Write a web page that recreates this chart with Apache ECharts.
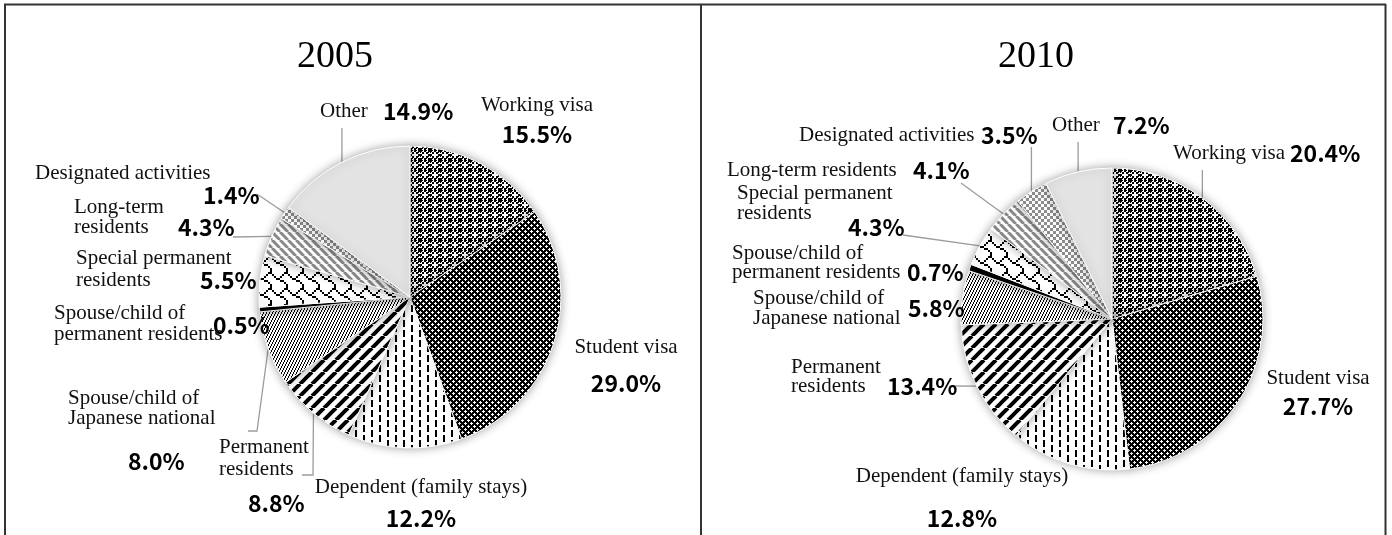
<!DOCTYPE html>
<html>
<head>
<meta charset="utf-8">
<script src="https://cdn.jsdelivr.net/npm/echarts@6/dist/echarts.min.js"></script>
<style>
  html, body { margin: 0; padding: 0; background: #fff; }
  #chart { width: 1392px; height: 535px; }
</style>
</head>
<body>
<div id="chart"></div>
<script>
// ---- data -------------------------------------------------------------
const years = ['2005', '2010'];

const categories2005 = [
  'Working visa', 'Student visa', 'Dependent (family stays)', 'Permanent\nresidents',
  'Spouse/child of\nJapanese national', 'Spouse/child of\npermanent residents',
  'Special permanent\nresidents', 'Long-term\nresidents', 'Designated activities', 'Other'
];
const values2005 = [15.5, 29.0, 12.2, 8.8, 8.0, 0.5, 5.5, 4.3, 1.4, 14.9];

const categories2010 = [
  'Working visa', 'Student visa', 'Dependent (family stays)', 'Permanent\nresidents',
  'Spouse/child of\nJapanese national', 'Spouse/child of\npermanent residents',
  'Special permanent\nresidents', 'Long-term residents', 'Designated activities', 'Other'
];
const values2010 = [20.4, 27.7, 12.8, 13.4, 5.8, 0.7, 4.3, 4.1, 3.5, 7.2];

// ---- label placement (line centre y, value start x, leader end points) ----
const place2005 = [
  { x: 537, align: 'center', lines: [{ c: 105, n: 0 }, { c: 134, v: 1 }] },
  { x: 626, align: 'center', lines: [{ c: 347, n: 0 }, { c: 383, v: 1 }] },
  { x: 421, align: 'center', lines: [{ c: 487, n: 0 }, { c: 518, v: 1 }] },
  { x: 219, lines: [{ c: 447, n: 0 }, { c: 469, n: 1 }, { c: 503, v: 1, vx: 248 }], leader: [[313, 475], [302, 475]] },
  { x: 68, lines: [{ c: 398, n: 0 }, { c: 418, n: 1 }, { c: 461, v: 1, vx: 128 }], leader: [[257, 431], [248, 431]] },
  { x: 54, lines: [{ c: 313, n: 0 }, { c: 323, v: 1, vx: 213 }, { c: 334, n: 1 }] },
  { x: 76, lines: [{ c: 258, n: 0 }, { c: 280, n: 1, v: 1, vx: 200 }] },
  { x: 74, lines: [{ c: 207, n: 0 }, { c: 227, n: 1, v: 1, vx: 178 }], leader: [[233, 237]] },
  { x: 35, lines: [{ c: 173, n: 0 }, { c: 195, v: 1, vx: 203 }], leader: [[257, 194]] },
  { x: 320, lines: [{ c: 111, n: 0, v: 1, vx: 383 }], leader: [[null, 128]] }
];
const place2010 = [
  { x: 1173, lines: [{ c: 153, n: 0, v: 1, vx: 1290 }], leader: [[null, 170]] },
  { x: 1318, align: 'center', lines: [{ c: 378, n: 0 }, { c: 406, v: 1 }] },
  { x: 962, align: 'center', lines: [{ c: 476, n: 0 }, { c: 518, v: 1 }] },
  { x: 791, lines: [{ c: 367, n: 0 }, { c: 386, n: 1, v: 1, vx: 887 }], leader: [[952, 386]] },
  { x: 753, half: 4, lines: [{ c: 298, n: 0 }, { c: 308, v: 1, vx: 908 }, { c: 318, n: 1 }] },
  { x: 732, lines: [{ c: 253, n: 0 }, { c: 272, n: 1, v: 1, vx: 907 }] },
  { x: 737, lines: [{ c: 193, n: 0 }, { c: 213, n: 1 }, { c: 227, v: 1, vx: 848 }], leader: [[903, 235]] },
  { x: 727, lines: [{ c: 170, n: 0, v: 1, vx: 913 }], leader: [[961, 183]] },
  { x: 799, lines: [{ c: 135, n: 0, v: 1, vx: 981 }], leader: [[null, 147]] },
  { x: 1052, lines: [{ c: 125, n: 0, v: 1, vx: 1113 }], leader: [[null, 142]] }
];

// ---- fill patterns ------------------------------------------------------
function tile(w, h, draw) {
  const c = document.createElement('canvas');
  c.width = w; c.height = h;
  const g = c.getContext('2d');
  g.fillStyle = '#fff';
  g.fillRect(0, 0, w, h);
  draw(g, w, h);
  return { image: c, repeat: 'repeat' };
}

// dark checker with white crosses
const fillWorking = tile(10, 10, g => {
  g.fillStyle = '#000';
  for (let i = 0; i < 5; i++) for (let j = 0; j < 5; j++) {
    if ((i + j) % 2 === 0 && !(i === 2 && j === 2)) g.fillRect(i * 2, j * 2, 2, 2);
    else if (!(Math.abs(i - 2) + Math.abs(j - 2) <= 1)) g.fillRect(i * 2, j * 2, 1, 1);
  }
});
// dark diamond lattice
const fillStudent = tile(6, 6, g => {
  g.fillStyle = '#000';
  g.fillRect(0, 0, 6, 6);
  g.fillStyle = '#fff';
  [[3, 2], [2, 3], [3, 3], [4, 3], [3, 4], [0, 0], [1, 0], [5, 0], [0, 1], [0, 5]]
    .forEach(p => g.fillRect(p[0], p[1], 1, 1));
});
// vertical dashes
const fillDependent = tile(16, 10, g => {
  g.fillStyle = '#000';
  g.fillRect(3, 0, 2, 7);
  g.fillRect(11, 5, 2, 5);
  g.fillRect(11, 0, 2, 2);
});
// wide upward diagonal
const fillPermanent = tile(12, 12, g => {
  g.strokeStyle = '#000'; g.lineWidth = 4;
  for (const k of [-12, 0, 12]) { g.beginPath(); g.moveTo(k, 12); g.lineTo(k + 12, 0); g.stroke(); }
});
// fine steep hatching
const fillSpouseJp = tile(3, 6, g => {
  g.fillStyle = '#000';
  for (let y = 0; y < 6; y++) g.fillRect(Math.floor((5 - y) / 2), y, 1, 1);
});
// shingle
const fillSpecial = tile(16, 16, g => {
  const rows = [0x03, 0x84, 0x48, 0x30, 0x0C, 0x02, 0x01, 0x01];
  g.fillStyle = '#000';
  rows.forEach((r, y) => { for (let x = 0; x < 8; x++) if (r & (0x80 >> x)) g.fillRect(x * 2, y * 2, 2, 2); });
});
// grey downward diagonal
const fillLongTerm = tile(8, 8, g => {
  g.strokeStyle = '#8a8a8a'; g.lineWidth = 3;
  for (const k of [-8, 0, 8]) { g.beginPath(); g.moveTo(k, 0); g.lineTo(k + 8, 8); g.stroke(); }
});
// grey checker
const fillDesignated = tile(6, 6, g => {
  g.fillStyle = '#8e8e8e';
  g.fillRect(0, 0, 3, 3); g.fillRect(3, 3, 3, 3);
});

const fills = [fillWorking, fillStudent, fillDependent, fillPermanent, fillSpouseJp,
  '#000', fillSpecial, fillLongTerm, fillDesignated, '#e3e3e3'];

// ---- label text building -------------------------------------------------
const NAME_FAMILY = '"Liberation Serif", "Times New Roman", serif';
const VALUE_FAMILY = '"Noto Sans CJK JP", "Noto Sans", sans-serif';
const NAME_SIZE = 21, VALUE_SIZE = 23;
const measureCtx = document.createElement('canvas').getContext('2d');
function nameWidth(t) {
  measureCtx.font = NAME_SIZE + 'px ' + NAME_FAMILY;
  return measureCtx.measureText(t).width;
}

function buildLabel(name, value, spec) {
  const nameLines = name.split('\n');
  const rich = {};
  const rows = [];
  let top = spec.lines[0].c - (spec.half || 11);
  const y0 = top;
  spec.lines.forEach((ln, i) => {
    const h = Math.max(2, 2 * (ln.c - top));
    top += h;
    let row = '';
    let cursor = spec.x;
    if (ln.n != null) {
      rich['n' + i] = { fontFamily: NAME_FAMILY, fontSize: NAME_SIZE, color: '#111', lineHeight: h };
      row += '{n' + i + '|' + nameLines[ln.n] + '}';
      cursor += nameWidth(nameLines[ln.n]);
    }
    if (ln.v) {
      const pad = ln.vx != null ? Math.max(0, ln.vx - cursor) : 0;
      rich['v' + i] = {
        fontFamily: VALUE_FAMILY, fontSize: VALUE_SIZE, fontWeight: 'bold', color: '#000',
        lineHeight: h, padding: [0, 0, 0, pad]
      };
      row += '{v' + i + '|' + value.toFixed(1) + '%}';
    }
    rows.push(row);
  });
  return { formatter: rows.join('\n'), rich, x: spec.x, y: y0, align: spec.align || 'left' };
}

function pieSeries(names, values, center, place) {
  const built = names.map((n, i) => buildLabel(n, values[i], place[i]));
  return {
    type: 'pie',
    center: center,
    radius: 151,
    startAngle: 90,
    clockwise: true,
    avoidLabelOverlap: false,
    animation: false,
    emphasis: { disabled: true },
    itemStyle: { borderColor: '#fff', borderWidth: 1, shadowBlur: 10, shadowColor: 'rgba(0,0,0,0.35)' },
    label: { show: true, position: 'outside' },
    labelLine: { show: true, length: 8, length2: 8, lineStyle: { color: '#9c9c9c', width: 1.3 } },
    data: values.map((v, i) => ({
      name: names[i],
      value: v,
      itemStyle: { color: fills[i] },
      label: { formatter: built[i].formatter, rich: built[i].rich },
      labelLine: { show: !!place[i].leader }
    })),
    labelLayout: function (p) {
      const b = built[p.dataIndex];
      const out = { x: b.x, y: b.y, align: b.align, verticalAlign: 'top' };
      const lead = place[p.dataIndex].leader;
      if (lead && p.labelLinePoints) {
        const a = p.labelLinePoints[0];
        out.labelLinePoints = [a].concat(lead.map(q => [q[0] == null ? a[0] : q[0], q[1]]));
      }
      return out;
    }
  };
}

const chart = echarts.init(document.getElementById('chart'), null, { renderer: 'canvas' });

const frameStyle = { stroke: '#333', lineWidth: 2 };
chart.setOption({
  backgroundColor: '#fff',
  graphic: [
    { type: 'line', shape: { x1: 4, y1: 4.5, x2: 1386, y2: 4.5 }, style: frameStyle },
    { type: 'line', shape: { x1: 5, y1: 4, x2: 5, y2: 535 }, style: frameStyle },
    { type: 'line', shape: { x1: 701, y1: 4, x2: 701, y2: 535 }, style: frameStyle },
    { type: 'line', shape: { x1: 1385.5, y1: 4, x2: 1385.5, y2: 535 }, style: frameStyle },
    { type: 'text', x: 335, y: 57, style: { text: years[0], font: '38px ' + NAME_FAMILY, fill: '#000', align: 'center', verticalAlign: 'middle' } },
    { type: 'text', x: 1036, y: 57, style: { text: years[1], font: '38px ' + NAME_FAMILY, fill: '#000', align: 'center', verticalAlign: 'middle' } }
  ],
  series: [
    pieSeries(categories2005, values2005, [410, 297], place2005),
    pieSeries(categories2010, values2010, [1112, 319], place2010)
  ]
});
</script>
</body>
</html>
